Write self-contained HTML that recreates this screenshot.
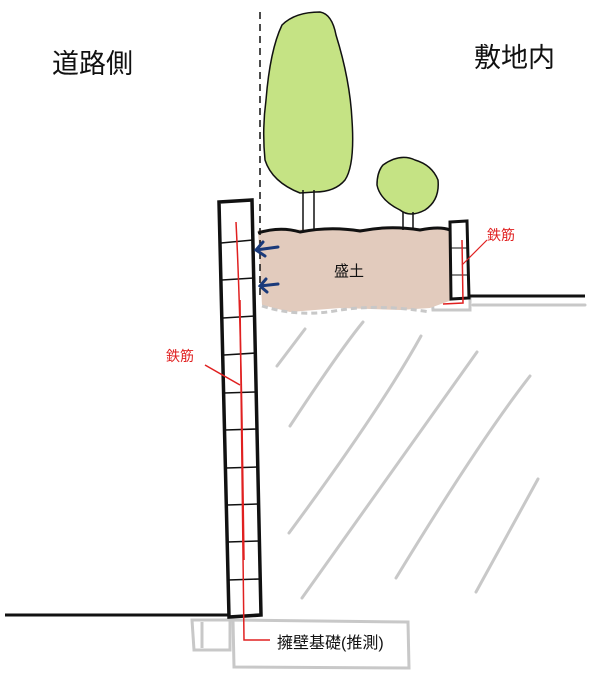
<!DOCTYPE html>
<html><head><meta charset="utf-8"><style>
html,body{margin:0;padding:0;background:#fff;}
svg{display:block;}
text{font-family:"Liberation Sans","Noto Sans CJK JP",sans-serif;}
</style></head><body>
<svg width="600" height="682" viewBox="0 0 600 682" xmlns="http://www.w3.org/2000/svg">
<!-- hatch -->
<g stroke="#c8c8c8" stroke-width="3" stroke-linecap="round" fill="none">
<line x1="305" y1="329" x2="277" y2="366"/>
<path d="M363 322 Q340 350 290 426"/>
<path d="M421 336 Q380 410 289 533"/>
<path d="M477 352 Q400 460 302 598"/>
<path d="M530 376 Q480 440 396 578"/>
<line x1="538" y1="479" x2="476" y2="592"/>
<line x1="473" y1="305" x2="585" y2="305"/>
</g>
<!-- footings -->
<g stroke="#c8c8c8" stroke-width="3" fill="none">
<path d="M192 620 L230 620 L230 650 L194 650 Z"/>
<path d="M202 622 L202 648"/>
<path d="M233 620 L408 622 L409 668 L234 667 Z"/>
<path d="M432 297 L470 297 L470 310 L433 310 Z"/>
</g>
<!-- soil -->
<path d="M258 230 L450 228 L452 300 L430 308 L400 310 L340 308 L290 312 L262 305 Z" fill="#e2cbbd"/>
<path d="M262 306 Q300 318 340 310 Q380 304 430 312" stroke="#c8c8c8" stroke-width="3" fill="none" stroke-dasharray="6,4"/>
<path d="M258 233 Q280 226 300 232 Q330 226 360 231 Q390 225 420 230 Q440 226 450 230" stroke="#111" stroke-width="3" fill="none"/>
<!-- trees -->
<path d="M300 193 Q272 182 265 160 Q262 130 266 100 Q270 50 282 25 Q295 12 320 12 Q332 14 336 35 Q350 80 352 120 Q355 165 345 180 Q335 192 315 192 Z" fill="#c5e384" stroke="#111" stroke-width="1.5"/>
<line x1="303" y1="190" x2="303" y2="230" stroke="#111" stroke-width="1.5"/>
<line x1="314" y1="190" x2="314" y2="230" stroke="#111" stroke-width="1.5"/>
<path d="M383 165 Q400 153 415 160 Q432 165 438 180 Q440 200 425 210 Q410 218 400 210 Q380 200 377 185 Q377 172 383 165 Z" fill="#c5e384" stroke="#111" stroke-width="1.5"/>
<line x1="403" y1="212" x2="403" y2="230" stroke="#111" stroke-width="1.5"/>
<line x1="413" y1="212" x2="413" y2="230" stroke="#111" stroke-width="1.5"/>
<!-- dashed line -->
<line x1="260" y1="12" x2="260" y2="300" stroke="#111" stroke-width="1.5" stroke-dasharray="7,5"/>
<!-- ground -->
<line x1="5" y1="615" x2="229" y2="615" stroke="#111" stroke-width="3"/>
<line x1="468" y1="296" x2="585" y2="296" stroke="#111" stroke-width="3"/>
<!-- wall -->
<path d="M219 202 L252 200 L261 615 L229 617 Z" fill="#fff" stroke="#111" stroke-width="3.5"/>
<g stroke="#111" stroke-width="1.5">
<line x1="221" y1="243" x2="253" y2="240"/>
<line x1="222" y1="280" x2="254" y2="278"/>
<line x1="223" y1="318" x2="255" y2="316"/>
<line x1="224" y1="355" x2="256" y2="353"/>
<line x1="224" y1="393" x2="257" y2="392"/>
<line x1="225" y1="430" x2="257" y2="429"/>
<line x1="226" y1="468" x2="258" y2="467"/>
<line x1="227" y1="505" x2="259" y2="504"/>
<line x1="227" y1="542" x2="260" y2="541"/>
<line x1="228" y1="580" x2="260" y2="579"/>
</g>
<g stroke="#e02020" stroke-width="1.5" fill="none">
<path d="M236 222 Q240 300 242 420 L244 560"/>
<path d="M240 300 L244 640 L270 640"/>
<line x1="205" y1="365" x2="240" y2="385"/>
</g>
<!-- small right wall -->
<path d="M450 222 L467 221 L469 298 L451 299 Z" fill="#fff" stroke="#111" stroke-width="3"/>
<line x1="451" y1="248" x2="467" y2="248" stroke="#111" stroke-width="1"/>
<line x1="451" y1="275" x2="467" y2="275" stroke="#111" stroke-width="1"/>
<path d="M462 240 L463 303 L443 304" stroke="#e02020" stroke-width="1.5" fill="none"/>
<line x1="462" y1="265" x2="487" y2="240" stroke="#e02020" stroke-width="1.2"/>
<!-- arrows -->
<g stroke="#1a3a7a" stroke-width="3" fill="none" stroke-linecap="round">
<path d="M278 247 L256 250 M263 242 L256 250 L265 256"/>
<path d="M278 284 L260 286 M266 279 L260 286 L267 292"/>
</g>
<!-- text -->
<text x="52" y="73" font-size="27" fill="#111">道路側</text>
<text x="474" y="67" font-size="27" fill="#111">敷地内</text>
<text x="334" y="276" font-size="15" fill="#111">盛土</text>
<text x="166" y="361" font-size="14" fill="#e02020">鉄筋</text>
<text x="487" y="240" font-size="14" fill="#e02020">鉄筋</text>
<text x="277" y="648" font-size="16" fill="#111">擁壁基礎(推測)</text>
</svg>
</body></html>
